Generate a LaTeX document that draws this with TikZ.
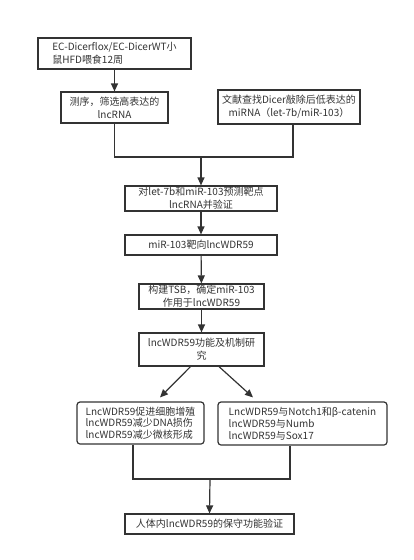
\documentclass[tikz,border=0pt]{standalone}
\usepackage{fontspec}
\setmainfont{Noto Sans CJK SC}
\usetikzlibrary{arrows.meta,calc}
\definecolor{ink}{HTML}{333333}
\tikzset{
  box/.style={draw=ink, line width=1.2pt, text=ink, align=center, inner sep=1pt,
    font=\fontsize{10}{13}\selectfont},
  rbox/.style={box, rounded corners=3pt, align=left, font=\fontsize{10}{11.7}\selectfont},
  arr/.style={draw=ink, line width=1.2pt, -{Triangle[length=8pt,width=7pt]}},
  ln/.style={draw=ink, line width=1.2pt}
}
\begin{document}
\begin{tikzpicture}[x=1pt,y=-1pt]
\useasboundingbox (0,0) rectangle (413,560);
\node[box, align=left, minimum width=153pt, minimum height=31pt] (b1) at (114.5,53.5) {EC-Dicerflox/EC-DicerWT小\\鼠HFD喂食12周};
\node[box, minimum width=107pt, minimum height=31pt] (b2) at (114.5,107.5) {测序，筛选高表达的\\lncRNA};
\node[box, minimum width=142pt, minimum height=34pt] (b3) at (289,107) {文献查找Dicer敲除后低表达的\\miRNA（let-7b/miR-103）};
\node[box, minimum width=152pt, minimum height=25pt] (b4) at (201,198.5) {对let-7b和miR-103预测靶点\\lncRNA并验证};
\node[box, minimum width=152pt, minimum height=20pt] (b5) at (201,245) {miR-103靶向lncWDR59};
\node[box, minimum width=125pt, minimum height=25pt] (b6) at (201.5,296.5) {构建TSB，确定miR-103\\作用于lncWDR59};
\node[box, minimum width=125pt, minimum height=33pt] (b7) at (201.5,349.5) {lncWDR59功能及机制研\\究};
\node[rbox, minimum width=127pt, minimum height=42pt] (b8) at (140.5,423) {LncWDR59促进细胞增殖\\lncWDR59减少DNA损伤\\lncWDR59减少微核形成};
\node[rbox, minimum width=169pt, minimum height=43pt] (b9) at (302.5,423.5) {LncWDR59与Notch1和β-catenin\\lncWDR59与Numb\\lncWDR59与Sox17};
\node[box, minimum width=169pt, minimum height=20pt] (b10) at (209.5,524) {人体内lncWDR59的保守功能验证};
\coordinate (j1) at (201,157);
\coordinate (j2) at (210,479);
\draw[arr] (b1) -- (b2);
\draw[ln] (b2.south) |- (j1) -| ([xshift=4pt]b3.south);
\draw[arr] (j1) -- (b4.north);
\draw[arr] (b4) -- (b5);
\draw[arr] (b5) -- (b6);
\draw[arr] (b6) -- (b7);
\draw[arr] ([xshift=-11pt]b7.south) -- ([xshift=19.5pt,yshift=4pt]b8.north);
\draw[arr] ([xshift=17.5pt]b7.south) -- ([xshift=-49.5pt,yshift=4pt]b9.north);
\draw[ln] ([xshift=-7.5pt]b8.south) |- (j2) -| ([xshift=-12.5pt]b9.south);
\draw[arr] (j2) -- (b10.north);
\end{tikzpicture}
\end{document}
